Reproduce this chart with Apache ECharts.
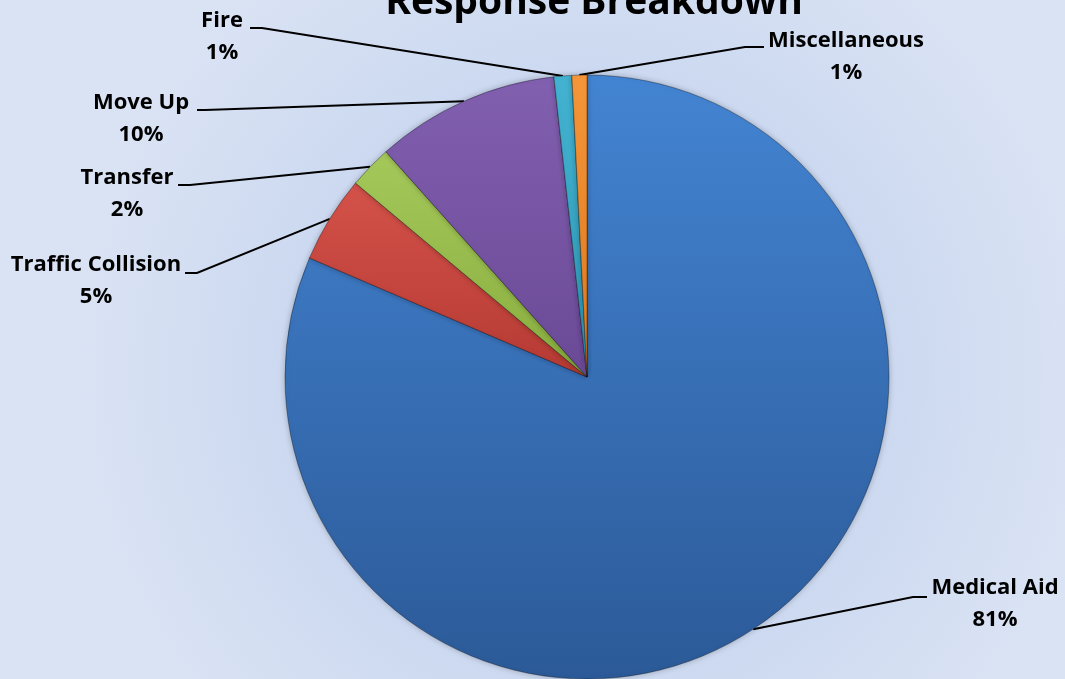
<!DOCTYPE html>
<html>
<head>
<meta charset="utf-8">
<script src="https://cdn.jsdelivr.net/npm/echarts@6/dist/echarts.min.js"></script>
<style>
html,body{margin:0;padding:0;width:1065px;height:679px;overflow:hidden;}
#main{width:1065px;height:679px;}
</style>
</head>
<body>
<div id="main"></div>
<script>
// ---- data ----
const categories = ['Medical Aid', 'Traffic Collision', 'Transfer', 'Move Up', 'Fire', 'Miscellaneous'];
const values = [81.45, 4.65, 2.3, 9.85, 0.95, 0.8];
const titleText = 'Response Breakdown';

// ---- styling ----
const sliceColors = [
  ['#4384d2', '#2c5a98'],
  ['#d4524a', '#b53a33'],
  ['#a5c85a', '#89ad3f'],
  ['#8260b0', '#6a4996'],
  ['#43b3d1', '#2e97b5'],
  ['#f5963a', '#e07a1e']
];
// label placement (centre of text block) and leader line end points
const labelPlaces = [
  { x: 995, y: 604, elbow: [913, 597], end: [927, 597] },
  { x: 96,  y: 281, elbow: [197, 273], end: [185, 273] },
  { x: 127, y: 194, elbow: [190, 185], end: [178, 185] },
  { x: 141, y: 119, elbow: [205, 110], end: [197, 110] },
  { x: 222, y: 37,  elbow: [262, 28],  end: [250, 28] },
  { x: 846, y: 57,  elbow: [745, 47],  end: [764, 47] }
];

const chart = echarts.init(document.getElementById('main'));
const data = categories.map((name, i) => ({
  name: name,
  value: values[i],
  itemStyle: {
    color: new echarts.graphic.LinearGradient(0, 0, 0, 1, [
      { offset: 0, color: sliceColors[i][0] },
      { offset: 1, color: sliceColors[i][1] }
    ])
  }
}));

chart.setOption({
  backgroundColor: new echarts.graphic.RadialGradient(0.55, 0.55, 0.75, [
    { offset: 0, color: '#b7caea' },
    { offset: 1, color: '#dae3f4' }
  ]),
  title: {
    text: titleText,
    left: 589,
    textAlign: 'center',
    top: -22,
    textStyle: { fontFamily: 'Open Sans', fontWeight: 'bold', fontSize: 39, color: '#000' }
  },
  series: [{
    type: 'pie',
    center: [587, 377],
    radius: 302,
    startAngle: 90,
    clockwise: true,
    percentPrecision: 0,
    avoidLabelOverlap: false,
    data: data,
    itemStyle: {
      borderColor: 'rgba(0,0,0,0.18)',
      borderWidth: 1,
      shadowBlur: 6,
      shadowColor: 'rgba(0,0,0,0.25)'
    },
    emphasis: { disabled: true },
    label: {
      show: true,
      formatter: '{b}\n{d}%',
      fontFamily: 'Open Sans',
      fontWeight: 'bold',
      fontSize: 22,
      lineHeight: 32,
      color: '#000',
      align: 'center'
    },
    labelLine: {
      show: true,
      lineStyle: { color: '#000', width: 2 }
    },
    labelLayout: function (params) {
      const p = labelPlaces[params.dataIndex];
      const start = params.labelLinePoints ? params.labelLinePoints[0] : p.elbow;
      return {
        x: p.x,
        y: p.y,
        align: 'center',
        verticalAlign: 'middle',
        labelLinePoints: [start, p.elbow, p.end]
      };
    }
  }]
});
</script>
</body>
</html>
